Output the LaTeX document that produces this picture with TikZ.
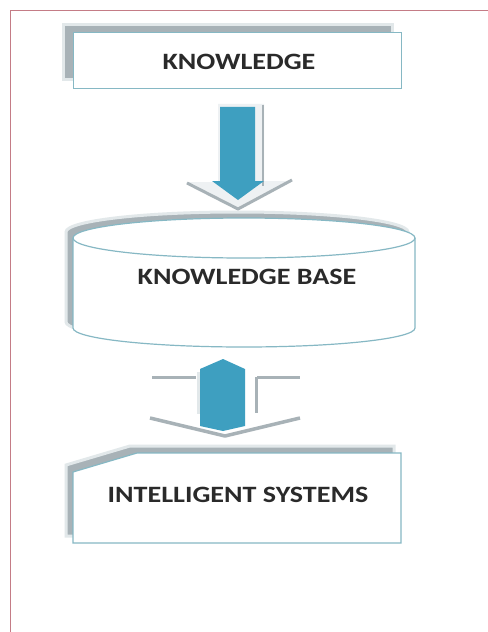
\documentclass[tikz,border=0pt]{standalone}
\usepackage{fontspec}
\setmainfont{Carlito}
\usetikzlibrary{calc}
\definecolor{frameC}{HTML}{C47C86}
\definecolor{edgeC}{HTML}{86B8C4}
\definecolor{shadowC}{HTML}{A8B2B7}
\definecolor{glowC}{HTML}{E2E8EA}
\definecolor{arrowC}{HTML}{3E9FC0}
\definecolor{txtC}{HTML}{2A2A2A}
\newcommand{\wide}[1]{\scalebox{1.2}[1]{#1}}
\tikzset{
  lbl/.style={font=\bfseries\fontsize{23.5}{23.5}\selectfont, text=txtC, inner sep=0pt},
  boxedge/.style={draw=edgeC, line width=1.2bp, fill=white},
  shadowfill/.style={fill=shadowC, draw=glowC, line width=3bp},
  greyline/.style={draw=shadowC, line width=3bp},
  bluefill/.style={fill=arrowC, draw=none},
}
\begin{document}
\begin{tikzpicture}[x=1bp,y=-1bp]
\useasboundingbox (0,0) rectangle (488,632);
\fill[white] (0,0) rectangle (488,632);
% frame
\draw[frameC, line width=1.6bp] (10.5,660) -- (10.5,10.5) -- (500,10.5);

% ---- KNOWLEDGE box
\path[shadowfill] (63,25) rectangle (392,80);
\node[boxedge, minimum width=328bp, minimum height=56bp, anchor=north west] (know) at (73,32) {};
\node[lbl] (knowt) at (239,62) {\wide{KNOWLEDGE}};

% ---- arrow 1 (down)
\fill[glowC!60] (218,104) -- (264,104) -- (264,181) -- (292,181) -- (238,210) -- (186,182) -- (218,182) -- cycle;
\draw[greyline, line width=2.5bp] (263,105) -- (263,186);
\draw[shadowC, line width=3bp] (187,183) -- (238,209) -- (292,180);
\path[bluefill] (220,107) -- (255,107) -- (255,181) -- (264,181) -- (238,200) -- (212,181) -- (220,181) -- cycle;

% ---- KNOWLEDGE BASE cylinder
\path[shadowfill] (66,232) -- (66,322) arc[start angle=180, end angle=0, x radius=171, y radius=19] -- (408,232) arc[start angle=0, end angle=-180, x radius=171, y radius=20] -- cycle;
\path[boxedge] (73,238) -- (73,328) arc[start angle=180, end angle=0, x radius=171, y radius=19] -- (415,238) arc[start angle=0, end angle=-180, x radius=171, y radius=20] -- cycle;
\draw[edgeC, line width=1.2bp] (73,238) arc[start angle=180, end angle=0, x radius=171, y radius=20];
\node[lbl] (kbt) at (247,277) {\wide{KNOWLEDGE BASE}};

% ---- double arrow
\draw[greyline] (152,377) -- (196,377);
\draw[greyline] (257,377) -- (300,377);
\draw[greyline] (256,377) -- (256,413);
\draw[greyline, draw=glowC] (198,372) -- (198,414);
\draw[shadowC, line width=3.5bp, line join=round] (150,418) -- (225,436) -- (300,418);
\path[bluefill] (200,369) -- (223,359) -- (245,369) -- (245,426) -- (223,431) -- (200,426) -- cycle;

% ---- INTELLIGENT SYSTEMS box
\path[shadowfill] (130,446) -- (394,446) -- (394,536) -- (66,536) -- (66,465) -- cycle;
\path[boxedge] (137,453) -- (401,453) -- (401,543) -- (73,543) -- (73,472) -- cycle;
\node[lbl] (ist) at (238,495) {\wide{INTELLIGENT SYSTEMS}};
\end{tikzpicture}
\end{document}
